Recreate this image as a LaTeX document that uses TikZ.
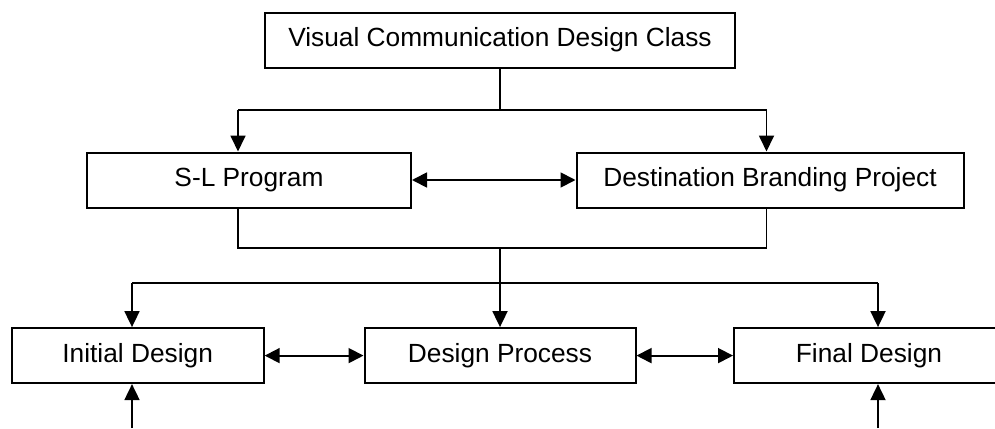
\documentclass[tikz,border=0pt]{standalone}
\usepackage{fontspec}
\setmainfont{Liberation Sans}
\usetikzlibrary{arrows.meta}
\begin{document}
\begin{tikzpicture}[x=0.5pt,y=-0.5pt,
  box/.style={draw=black,line width=1pt,fill=white,inner sep=0pt,minimum height=27.5pt,
    font=\fontsize{13.15pt}{15pt}\selectfont},
  conn/.style={draw=black,line width=0.9pt},
  arr/.style={conn,-{Triangle[length=8pt,width=7.5pt]}},
  darr/.style={conn,{Triangle[length=7.5pt,width=7.5pt]}-{Triangle[length=7.5pt,width=7.5pt]}}]
\clip (0,0) rectangle (995,428);
\useasboundingbox (0,0) rectangle (995,428);
% nodes
\node[box,minimum width=235pt] (top) at (500,40) {Visual Communication Design Class};
\node[box,minimum width=162pt] (sl) at (249,180) {S-L Program};
\node[box,minimum width=193.5pt] (dest) at (770,180) {Destination Branding Project};
\node[box,minimum width=126pt] (init) at (137.7,355.6) {Initial Design};
\node[box,minimum width=135.5pt] (proc) at (500,355.6) {Design Process};
\node[box,minimum width=135pt] (final) at (869,355.6) {Final Design};
% junction coordinates
\coordinate (j1) at (500,110);
\coordinate (j1l) at (238,110);
\coordinate (j1r) at (766.5,110);
\coordinate (j2l) at (238,247.7);
\coordinate (j2r) at (766.5,247.7);
\coordinate (j2) at (500,247.7);
\coordinate (j3) at (500,283);
\coordinate (j3l) at (132,283);
\coordinate (j3r) at (878,283);
\coordinate (b1) at (132,428);
\coordinate (b2) at (878,428);
% top split
\draw[conn] (top.south) -- (j1);
\draw[conn] (j1l) -- (j1r);
\draw[arr] (j1l) -- (j1l |- sl.north);
\draw[arr] (j1r) -- (j1r |- dest.north);
% middle link
\draw[darr] (sl.east) -- (dest.west);
% bracket
\draw[conn] (j2l |- sl.south) -- (j2l) -- (j2r) -- (j2r |- dest.south);
\draw[conn] (j2) -- (j3);
\draw[conn] (j3l) -- (j3r);
\draw[arr] (j3l) -- (j3l |- init.north);
\draw[arr] (j3) -- (proc.north);
\draw[arr] (j3r) -- (j3r |- final.north);
% bottom links
\draw[darr] (init.east) -- (proc.west);
\draw[darr] (proc.east) -- (final.west);
\draw[arr] (b1) -- (b1 |- init.south);
\draw[arr] (b2) -- (b2 |- final.south);
\end{tikzpicture}
\end{document}
